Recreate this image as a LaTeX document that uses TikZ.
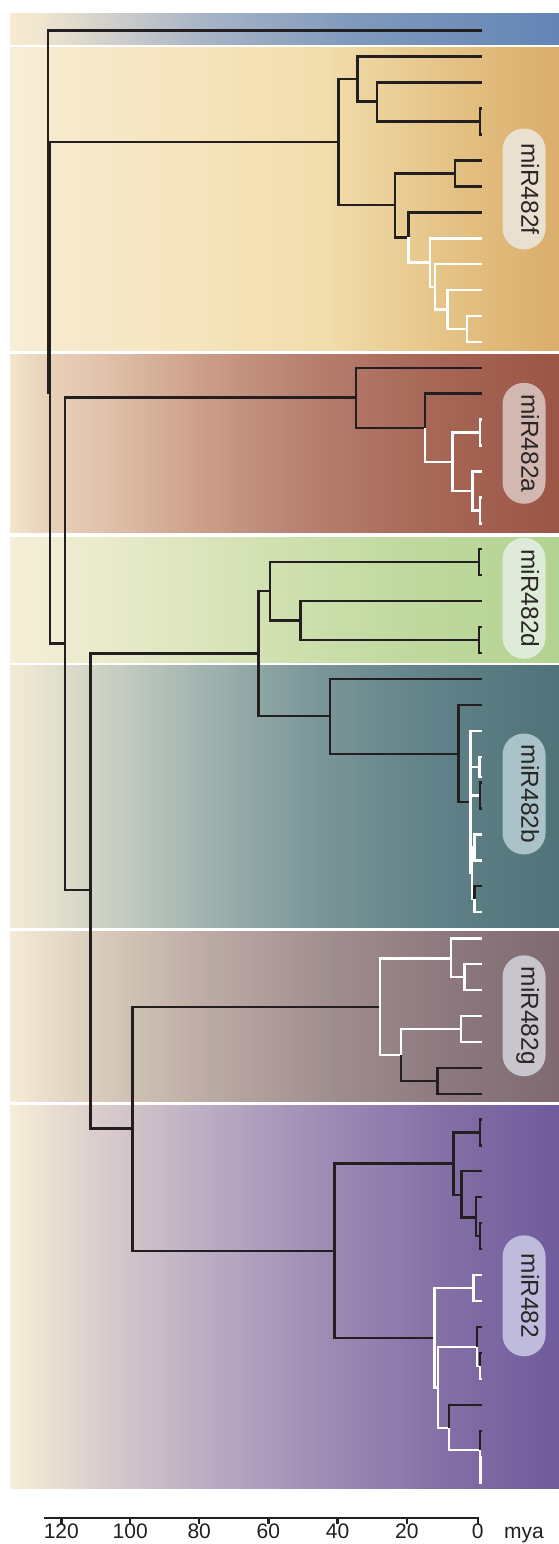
\documentclass[tikz,border=0pt]{standalone}
\usepackage{fontspec}
\setmainfont{Liberation Sans}
\definecolor{lineblk}{HTML}{231F20}
\definecolor{labtxt}{HTML}{2A2626}
% blue
\definecolor{bl0}{HTML}{F6EACF}\definecolor{bl1}{HTML}{F2E7CF}\definecolor{bl2}{HTML}{D8D5CC}
\definecolor{bl3}{HTML}{A9B5C6}\definecolor{bl4}{HTML}{809ABD}\definecolor{bl5}{HTML}{6385B5}
% gold
\definecolor{go0}{HTML}{F8EED8}\definecolor{go1}{HTML}{F7EBD1}\definecolor{go2}{HTML}{F5E4BC}
\definecolor{go3}{HTML}{F1DCAA}\definecolor{go4}{HTML}{E4C285}\definecolor{go5}{HTML}{DAAD6A}
% red
\definecolor{re0}{HTML}{F4E5CD}\definecolor{re1}{HTML}{EAD5BD}\definecolor{re2}{HTML}{E2C3AC}
\definecolor{re3}{HTML}{CC9F8A}\definecolor{re4}{HTML}{B88171}\definecolor{re5}{HTML}{A86958}
\definecolor{re6}{HTML}{9B5545}
% green
\definecolor{gr0}{HTML}{F6EED7}\definecolor{gr1}{HTML}{EAEBCC}\definecolor{gr2}{HTML}{D4E2B4}
\definecolor{gr3}{HTML}{C1D9A0}\definecolor{gr4}{HTML}{B3D391}
% teal
\definecolor{te0}{HTML}{F4EBD4}\definecolor{te1}{HTML}{E9E4D1}\definecolor{te2}{HTML}{CDD2C4}
\definecolor{te3}{HTML}{A2B4B0}\definecolor{te4}{HTML}{7A9598}\definecolor{te5}{HTML}{5F8187}
\definecolor{te6}{HTML}{50737A}
% gray
\definecolor{gy0}{HTML}{F5EBD5}\definecolor{gy1}{HTML}{D8CABB}\definecolor{gy2}{HTML}{B8A7A2}
\definecolor{gy3}{HTML}{9E8C8D}\definecolor{gy4}{HTML}{8C787E}\definecolor{gy5}{HTML}{7F6A72}
% purple
\definecolor{pu0}{HTML}{F7EED8}\definecolor{pu1}{HTML}{DDD0CC}\definecolor{pu2}{HTML}{BCAEC4}
\definecolor{pu3}{HTML}{9F8DB6}\definecolor{pu4}{HTML}{8570A6}\definecolor{pu5}{HTML}{6F5B9C}
% pills
\definecolor{pf}{HTML}{E9E0CF}\definecolor{pa}{HTML}{D3B8B1}\definecolor{pd}{HTML}{DEEBD9}
\definecolor{pb}{HTML}{A9C3C8}\definecolor{pg}{HTML}{C9C5CC}\definecolor{pp}{HTML}{BEBBDD}

\newcommand\mkband[3]{%
  \foreach \xx/\cc [remember=\xx as \px (initially -1), remember=\cc as \pc (initially white)] in {#3}{%
    \ifdim\px pt>0pt \shade[left color=\pc,right color=\cc] (\px,#1) rectangle (\xx+0.6,#2);\fi}}
\newcommand\kids[3]{\foreach \kk in {#3}{\draw[#1] (#2) |- (\kk);}}

\begin{document}
\begin{tikzpicture}[x=1pt,y=-1pt,
  br/.style={line width=2.4pt,draw=lineblk,line cap=butt,line join=miter},
  bw/.style={br,draw=white},
  axisln/.style={line width=2.4pt,draw=lineblk,line cap=butt},
  pill/.style={rounded corners=21.5pt,minimum width=121pt,minimum height=43pt,inner sep=0pt,
    rotate=-90,font=\fontsize{24.5pt}{24.5pt}\selectfont,text=labtxt,text height=0.72em,text depth=0.2em},
  ticklab/.style={anchor=base,inner sep=0pt,font=\fontsize{21pt}{21pt}\selectfont,text=lineblk}]
\useasboundingbox (0,0) rectangle (559,1544);
\fill[white] (0,0) rectangle (559,1544);

% ---------- background bands ----------
\mkband{14}{45}{10/bl0,36/bl1,90/bl2,200/bl3,350/bl4,559/bl5}
\mkband{48}{350}{10/go0,36/go1,200/go2,330/go3,450/go4,559/go5}
\mkband{354}{532.5}{10/re0,36/re1,100/re2,200/re3,300/re4,420/re5,559/re6}
\mkband{537}{662}{10/gr0,100/gr1,250/gr2,400/gr3,559/gr4}
\mkband{665.5}{927}{10/te0,36/te1,100/te2,200/te3,320/te4,440/te5,559/te6}
\mkband{931}{1101}{10/gy0,100/gy1,220/gy2,340/gy3,450/gy4,559/gy5}
\mkband{1105}{1488}{10/pu0,90/pu1,200/pu2,320/pu3,440/pu4,559/pu5}

% ---------- internal nodes ----------
\coordinate (R) at (48,211);
\coordinate (N1) at (50,392.5);
\coordinate (N2) at (65,643.5);
\coordinate (N3) at (90.5,890);
\coordinate (N4) at (258.3,653.5);
\coordinate (N5) at (132.3,1128.5);
% gold
\coordinate (G) at (338.3,142);
\coordinate (Gu) at (357.3,79);
\coordinate (Gu2) at (376.7,101.7);
\coordinate (Gp) at (480,121.5);
\coordinate (Gl) at (395,205);
\coordinate (Gl1) at (455,173.4);
\coordinate (Gl2) at (408.3,237.3);
\coordinate (W1) at (430,262.3);
\coordinate (W2) at (435,286.7);
\coordinate (W3) at (447.3,309.3);
\coordinate (W4) at (466.7,329);
% red
\coordinate (Rd) at (355.7,397.6);
\coordinate (Rd2) at (425,427.7);
\coordinate (Rw) at (452.3,461.7);
\coordinate (Rp1) at (480,432.6);
\coordinate (Rw2) at (472.3,490.7);
\coordinate (Rp2) at (480,510.3);
% green
\coordinate (Gd) at (270,591);
\coordinate (Gdp1) at (479,562);
\coordinate (Gd2) at (300.3,620.3);
\coordinate (Gdp2) at (479,640);
% teal
\coordinate (Tl) at (330,716);
\coordinate (Tl2) at (458.3,753.7);
\coordinate (Tb) at (470.5,802);
\coordinate (Tq) at (479.5,766.7);
\coordinate (Tk) at (480,795.5);
\coordinate (Tc) at (472,873);
\coordinate (Td) at (474.3,847.4);
\coordinate (Tf) at (474.3,899.2);
% gray
\coordinate (Gy) at (380,1006.7);
\coordinate (Gy1) at (450.7,958.3);
\coordinate (Gy3) at (464.3,977.2);
\coordinate (Gy2) at (400.7,1055);
\coordinate (Gy4) at (460.7,1029);
\coordinate (Gy5) at (437.3,1080.7);
% purple
\coordinate (P) at (334.3,1250.7);
\coordinate (Pu) at (453.3,1163.3);
\coordinate (Pp1) at (480,1132.3);
\coordinate (Pu2) at (461.3,1194.7);
\coordinate (Pu3) at (475.7,1217.3);
\coordinate (Pp2) at (480,1236.1);
\coordinate (Pl) at (434.3,1337.7);
\coordinate (Pw1) at (473.3,1288);
\coordinate (Pw2) at (437.7,1387.3);
\coordinate (Pw3) at (476.7,1346.7);
\coordinate (Pw5) at (480,1365.9);
\coordinate (Pw4) at (449,1428);
\coordinate (Pw6) at (480,1450);
\coordinate (Pw7) at (480.5,1469.7);

% ---------- tips ----------
\foreach \n/\y in {tB/30.6,
  g1/56.7,g2/82.6,g3/108.6,g4/134.5,g5/160.5,g6/186.4,g7/212.3,g8/238.3,g9/264.2,g10/290.2,g11/316.1,g12/342.0,
  r1/367.7,r2/393.6,r3/419.6,r4/445.5,r5/471.4,r6/497.4,r7/523.3,
  d1/549,d2/575,d3/601,d4/627,d5/653,
  e1/679,e2/704.9,e3/730.8,e4/756.7,eq/776.7,e5/782.6,e6/808.5,e7/834.4,e8/860.3,e9/886.2,e10/912.1,
  y1/938.3,y2/964.2,y3/990.1,y4/1016,y5/1041.9,y6/1067.8,y7/1093.7,
  p1/1119.3,p2/1145.3,p3/1171.2,p4/1197.2,p5/1223.1,p6/1249.1,p7/1275.0,p8/1301.0,
  p9/1326.9,p10/1352.9,p11/1378.8,p12/1404.8,p13/1430.7,p14/1456.7,p15/1482.6}
  {\coordinate (\n) at (481.5,\y);}

% ---------- backbone ----------
\kids{br}{R}{tB,N1}
\kids{br}{N1}{G,N2}
\kids{br}{N2}{Rd,N3}
\kids{br}{N3}{N4,N5}
\kids{br}{N4}{Gd,Tl}
\kids{br}{N5}{Gy,P}

% ---------- gold clade ----------
\kids{br}{G}{Gu,Gl}
\kids{br}{Gu}{g1,Gu2}
\kids{br}{Gu2}{g2,Gp}
\kids{br}{Gp}{g3,g4}
\kids{br}{Gl}{Gl1,Gl2}
\kids{br}{Gl1}{g5,g6}
\kids{br}{Gl2}{g7}
\kids{bw}{Gl2}{W1}
\kids{bw}{W1}{g8,W2}
\kids{bw}{W2}{g9,W3}
\kids{bw}{W3}{g10,W4}
\kids{bw}{W4}{g11,g12}

% ---------- red clade ----------
\kids{br}{Rd}{r1,Rd2}
\kids{br}{Rd2}{r2}
\kids{bw}{Rd2}{Rw}
\kids{bw}{Rw}{Rp1,Rw2}
\kids{bw}{Rp1}{r3,r4}
\kids{bw}{Rw2}{r5,Rp2}
\kids{bw}{Rp2}{r6,r7}

% ---------- green clade ----------
\kids{br}{Gd}{Gdp1,Gd2}
\kids{br}{Gdp1}{d1,d2}
\kids{br}{Gd2}{d3,Gdp2}
\kids{br}{Gdp2}{d4,d5}

% ---------- teal clade ----------
\kids{br}{Tl}{e1,Tl2}
\kids{br}{Tl2}{e2,Tb}
\kids{bw}{Tb}{e3,Tq,Tk,Tc}
\kids{bw}{Tq}{e4,eq}
\kids{br}{Tk}{e5,e6}
\kids{bw}{Tc}{Td,Tf}
\kids{bw}{Td}{e7,e8}
\kids{br}{Tf}{e9}
\kids{bw}{Tf}{e10}

% ---------- gray clade ----------
\kids{bw}{Gy}{Gy1,Gy2}
\kids{bw}{Gy1}{y1,Gy3}
\kids{bw}{Gy3}{y2,y3}
\kids{bw}{Gy2}{Gy4}
\kids{br}{Gy2}{Gy5}
\kids{bw}{Gy4}{y4,y5}
\kids{br}{Gy5}{y6,y7}

% ---------- purple clade ----------
\kids{br}{P}{Pu,Pl}
\kids{br}{Pu}{Pp1,Pu2}
\kids{br}{Pp1}{p1,p2}
\kids{br}{Pu2}{p3,Pu3}
\kids{br}{Pu3}{p4,Pp2}
\kids{br}{Pp2}{p5,p6}
\kids{bw}{Pl}{Pw1,Pw2}
\kids{bw}{Pw1}{p7,p8}
\kids{bw}{Pw2}{Pw3,Pw4}
\kids{br}{Pw3}{p9}
\kids{bw}{Pw3}{Pw5}
\kids{br}{Pw5}{p10}
\kids{bw}{Pw5}{p11}
\kids{br}{Pw4}{p12}
\kids{bw}{Pw4}{Pw6}
\kids{br}{Pw6}{p13}
\kids{bw}{Pw6}{Pw7}
\kids{bw}{Pw7}{p14,p15}

% ---------- clade labels ----------
\node[pill,fill=pf] (Lf) at (524,189) {miR482f};
\node[pill,fill=pa] (La) at (524,443.3) {miR482a};
\node[pill,fill=pd] (Ld) at (524,598.3) {miR482d};
\node[pill,fill=pb] (Lb) at (524,794) {miR482b};
\node[pill,fill=pg] (Lg) at (524,1015.8) {miR482g};
\node[pill,fill=pp] (L0) at (524,1295.8) {miR482};

% ---------- time axis ----------
\coordinate (ax0) at (43.5,1517.7);
\coordinate (ax1) at (478.9,1517.7);
\draw[axisln] (ax0) -- (ax1);
\foreach \x/\l in {477.7/0,406.9/20,337.6/40,268.4/60,199.2/80,130.2/100,61.3/120}{
  \coordinate (tk\l) at (\x,1517.7);
  \draw[axisln] (tk\l) -- ++(0,5.8);
  \node[ticklab] (lab\l) at (\x,1538.5) {\l};
}
\node[ticklab] (mya) at (524,1538.5) {mya};
\end{tikzpicture}
\end{document}
